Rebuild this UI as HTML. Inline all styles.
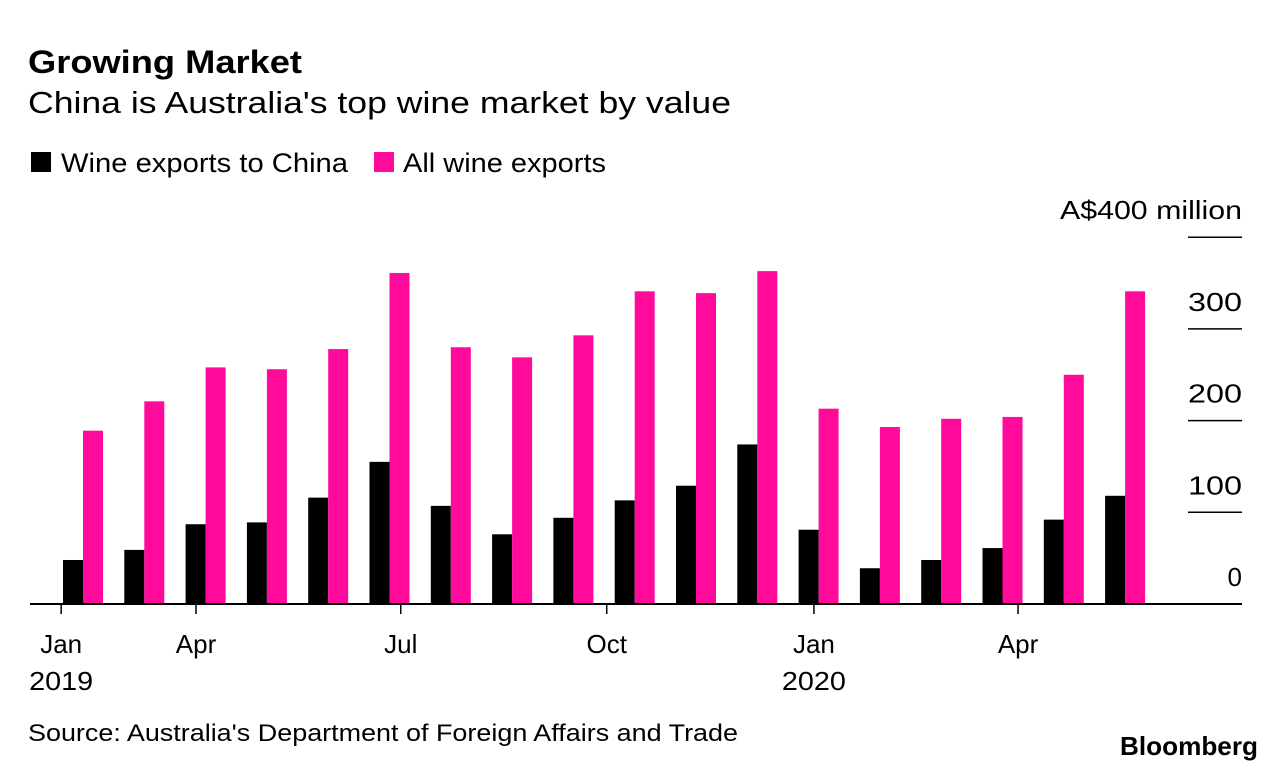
<!DOCTYPE html>
<html><head><meta charset="utf-8"><style>
body{margin:0;background:#fff;font-family:"Liberation Sans",sans-serif;}
#c{position:relative;width:1286px;height:772px;overflow:hidden}
</style></head><body>
<div id="c">
<svg id="s" width="1286" height="772" style="position:absolute;left:0;top:0">
<text x="28" y="73" font-size="32" font-weight="bold" fill="#000" textLength="274" lengthAdjust="spacingAndGlyphs">Growing Market</text>
<text x="28" y="113" font-size="31" fill="#000" textLength="703" lengthAdjust="spacingAndGlyphs">China is Australia's top wine market by value</text>
<rect x="31" y="152" width="20" height="20" fill="#000"/>
<text x="61" y="172" font-size="27" fill="#000" textLength="287" lengthAdjust="spacingAndGlyphs">Wine exports to China</text>
<rect x="374" y="152" width="20" height="20" fill="#ff0a9b"/>
<text x="403" y="172" font-size="27" fill="#000" textLength="203" lengthAdjust="spacingAndGlyphs">All wine exports</text>
<text x="28" y="741" font-size="24" fill="#000" textLength="710" lengthAdjust="spacingAndGlyphs">Source: Australia's Department of Foreign Affairs and Trade</text>
<text x="1120" y="755" font-size="26" font-weight="bold" fill="#000" textLength="138" lengthAdjust="spacingAndGlyphs">Bloomberg</text>
<g id="g"></g>
</svg>
</div>
<script>
const months=["Jan 2019","Feb","Mar","Apr","May","Jun","Jul","Aug","Sep","Oct","Nov","Dec","Jan 2020","Feb","Mar","Apr","May","Jun"];
const china=[48,59,87,89,116,155,107,76,94,113,129,174,81,39,48,61,92,118];
const all=[189,221,258,256,278,361,280,269,293,341,339,363,213,193,202,204,250,341];
const yTicks=[0,100,200,300,400];
const yTickLabels=["0","100","200","300","A$400 million"];
const xTickPos=[-0.03,2.17,5.51,8.87,12.25,15.58];
const xTickLabels=[["Jan","2019"],["Apr",""],["Jul",""],["Oct",""],["Jan","2020"],["Apr",""]];
const NS="http://www.w3.org/2000/svg",g=document.getElementById('g');
const y=v=>604-v*0.917;
const x=i=>63+i*61.3;
function mk(t,a,txt){const e=document.createElementNS(NS,t);for(const k in a)e.setAttribute(k,a[k]);if(txt!==undefined)e.textContent=txt;g.appendChild(e);return e;}
yTicks.forEach((v,i)=>{
 if(v>0){const l=mk('line',{x1:1188,x2:1242,y1:y(v),y2:y(v),stroke:'#000','stroke-width':1.5});
 
 }
 const a={x:1242,y:y(v)-18,'font-size':26,'text-anchor':'end',fill:'#000'};
 if(v===400){a.textLength=182;a.lengthAdjust='spacingAndGlyphs';}
 else if(v>0){a.textLength=54;a.lengthAdjust='spacingAndGlyphs';}
 const t=mk('text',a,yTickLabels[i]);
 
 
});
months.forEach((m,i)=>{
 const b=mk('rect',{x:x(i),y:y(china[i]),width:20,height:604-y(china[i]),fill:'#000'});
 
 
 const p=mk('rect',{x:x(i)+20,y:y(all[i]),width:20,height:604-y(all[i]),fill:'#ff0a9b'});
 
 
});
const base=mk('line',{x1:30,x2:1242,y1:604,y2:604,stroke:'#000','stroke-width':2});


xTickPos.forEach((p,i)=>{
 const px=x(p);
 const l=mk('line',{x1:px,x2:px,y1:604,y2:614,stroke:'#000','stroke-width':1.5});
 
 
 const t=mk('text',{x:px,y:653,'font-size':26,'text-anchor':'middle',fill:'#000'},xTickLabels[i][0]);
 
 
 if(xTickLabels[i][1]){const t2=mk('text',{x:px,y:690,'font-size':26,'text-anchor':'middle',fill:'#000',textLength:64,lengthAdjust:'spacingAndGlyphs'},xTickLabels[i][1]);
 
 }
});
</script>
</body></html>
